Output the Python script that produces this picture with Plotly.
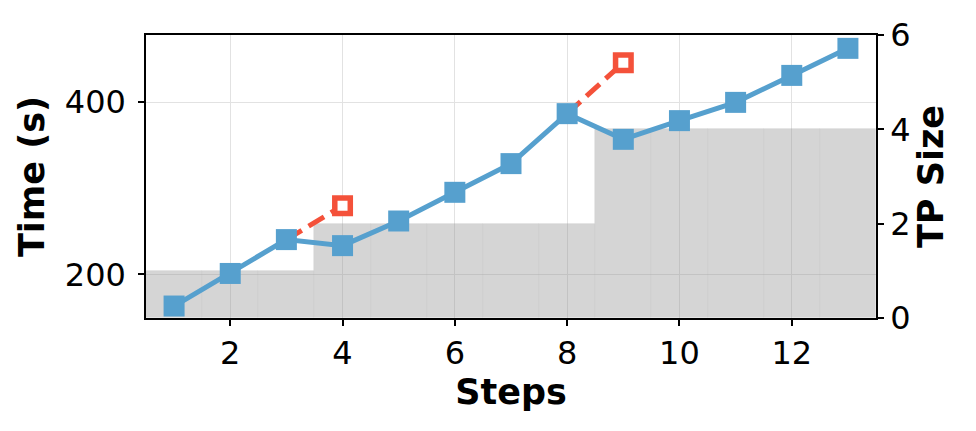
import plotly.graph_objects as go

steps = [1, 2, 3, 4, 5, 6, 7, 8, 9, 10, 11, 12, 13]
time_s = [163.2, 201.0, 240.3, 233.3, 261.9, 295.2, 328.5, 386.5, 356.7, 378.4, 399.6, 430.9, 462.3]
tp_size = [1, 1, 1, 2, 2, 2, 2, 2, 4, 4, 4, 4, 4]

# alternative points reached from the previous step
alt_from_steps = [3, 8]
alt_steps = [4, 9]
alt_time = [279.7, 445.7]

x_ticks = [2, 4, 6, 8, 10, 12]
time_ticks = [200, 400]
tp_ticks = [0, 2, 4, 6]

BLUE = "#56A0CE"
RED = "#F4513A"
FONT = "DejaVu Sans"

fig = go.Figure()

# TP size bars (base axis y, shown on the right)
fig.add_trace(go.Bar(
    x=steps, y=tp_size, width=1.0,
    marker=dict(color="rgba(150,150,150,0.40)",
                line=dict(color="rgba(110,110,110,0.06)", width=0.8)),
    yaxis="y", showlegend=False, hoverinfo="skip",
))

seg_x, seg_y = [], []
for f, s, t in zip(alt_from_steps, alt_steps, alt_time):
    seg_x += [f, s, None]
    seg_y += [time_s[steps.index(f)], t, None]
fig.add_trace(go.Scatter(
    x=seg_x, y=seg_y, mode="lines",
    line=dict(color=RED, width=5, dash="18px,8px"),
    yaxis="y2", showlegend=False,
))
fig.add_trace(go.Scatter(
    x=alt_steps, y=alt_time, mode="markers",
    marker=dict(symbol="square", size=15.5, color="white",
                line=dict(color=RED, width=5.5)),
    yaxis="y2", showlegend=False,
))

fig.add_trace(go.Scatter(
    x=steps, y=time_s, mode="lines+markers",
    line=dict(color=BLUE, width=5),
    marker=dict(symbol="square", size=21, color=BLUE, line=dict(width=0)),
    yaxis="y2", showlegend=False,
))

axis_common = dict(
    showline=True, linecolor="black", linewidth=1.5,
    ticks="outside", ticklen=6, tickwidth=1.5, tickcolor="black",
    tickfont=dict(family=FONT, size=32, color="black"),
    zeroline=False,
)

fig.update_layout(
    width=976, height=431,
    margin=dict(l=146, r=100, t=35, b=113, autoexpand=False),
    paper_bgcolor="white", plot_bgcolor="white",
    bargap=0,
    font=dict(family=FONT, color="black"),
    xaxis=dict(
        range=[0.5, 13.5], tickvals=x_ticks, mirror=True,
        showgrid=True, gridcolor="#e2e2e2", gridwidth=1.2,
        ticklabelstandoff=0,
        title=dict(text="<b>Steps</b>", font=dict(family=FONT, size=35), standoff=6),
        **axis_common,
    ),
    yaxis=dict(
        range=[0, 6], tickvals=tp_ticks, side="right", mirror=True,
        showgrid=False,
        title=dict(text="<b>TP Size</b>", font=dict(family=FONT, size=35), standoff=8),
        **axis_common,
    ),
    yaxis2=dict(
        range=[149.3, 477.8], tickvals=time_ticks, side="left", overlaying="y",
        showgrid=True, gridcolor="#e2e2e2", gridwidth=1.2,
        ticklabelstandoff=6,
        title=dict(text="<b>Time (s)</b>", font=dict(family=FONT, size=35), standoff=10),
        **axis_common,
    ),
)

fig.write_html("out.html", config={"displayModeBar": False},
               post_script="document.body.style.margin='0';document.body.style.padding='0';")
